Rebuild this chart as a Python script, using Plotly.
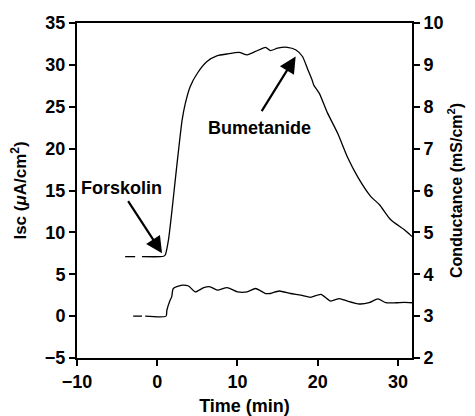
import plotly.graph_objects as go

# Isc trace (left axis, uA/cm2); None marks the gaps in the dashed baseline
isc_time = [-4.0, -2.75, None, -1.9, 0.4, 0.8, 1.0, 1.4, 1.8, 2.25, 2.7, 3.1, 3.5, 4.1, 5.0, 6.2, 7.5,
            8.7, 10.2, 11.2, 12.25, 13.5, 14.1, 15.0, 16.2, 17.25, 18.1, 18.7, 19.3, 19.5,
            20.2, 21.2, 22.5, 23.7, 25.0, 26.6, 27.7, 29.1, 30.8, 31.75]
isc_vals = [7.1, 7.1, None, 7.1, 7.1, 7.15, 7.3, 9.1, 12.3, 16.3, 20.2, 23.4, 25.4, 27.4, 29.0, 30.4, 31.1,
            31.3, 31.5, 31.2, 31.6, 32.1, 31.7, 32.0, 32.1, 31.8, 31.0, 29.6, 28.2, 27.6,
            26.6, 24.3, 21.8, 19.0, 16.6, 14.3, 13.3, 11.5, 10.3, 9.5]

# Conductance trace (right axis, mS/cm2)
g_time = [-3.0, -1.9, None, -1.5, 1.1, 1.2, 1.6, 1.8, 2.0, 3.1, 3.9, 4.75, 5.8, 6.6, 7.5, 8.7, 10.0,
          11.2, 12.25, 13.5, 14.1, 15.2, 16.6, 17.9, 19.1, 20.4, 21.6, 22.7, 23.7, 25.2,
          26.4, 27.5, 28.5, 29.75, 30.8, 31.75]
g_vals = [3.0, 3.0, None, 3.0, 3.0, 3.14, 3.38, 3.46, 3.66, 3.74, 3.72, 3.58, 3.68, 3.70, 3.62, 3.68, 3.58,
          3.58, 3.66, 3.54, 3.54, 3.60, 3.54, 3.50, 3.45, 3.52, 3.36, 3.42, 3.36, 3.29,
          3.32, 3.41, 3.32, 3.32, 3.33, 3.32]

x_ticks = [-10, 0, 10, 20, 30]
y_ticks = [-5, 0, 5, 10, 15, 20, 25, 30, 35]
y2_ticks = [2, 3, 4, 5, 6, 7, 8, 9, 10]

FONT = "Liberation Sans, Arial, sans-serif"
TICKFONT = dict(family=FONT, size=18, color="black", weight="bold")
TITLEFONT = dict(family=FONT, size=17, color="black", weight="bold")

fig = go.Figure()
fig.add_trace(go.Scatter(x=isc_time, y=isc_vals, mode="lines", connectgaps=False,
                         line=dict(color="black", width=1.3, shape="spline", smoothing=0.6),
                         showlegend=False))
fig.add_trace(go.Scatter(x=g_time, y=g_vals, mode="lines", connectgaps=False, yaxis="y2",
                         line=dict(color="black", width=1.3, shape="spline", smoothing=0.6),
                         showlegend=False))

axis_common = dict(showgrid=False, zeroline=False, showline=True, linecolor="black", linewidth=2,
                   ticks="outside", ticklen=6, tickwidth=2, tickcolor="black",
                   tickfont=TICKFONT, automargin=False)

# page body has an 8px margin, so the figure is sized to fit the window
fig.update_layout(
    width=467, height=408,
    margin=dict(l=69, r=63, t=15, b=58),
    plot_bgcolor="white", paper_bgcolor="white",
    font=dict(family=FONT, color="black"),
    xaxis=dict(range=[-10, 31.75], tickvals=x_ticks, mirror=True,
               title=dict(text="Time (min)", font=dict(family=FONT, size=18, color="black", weight="bold")),
               **axis_common),
    yaxis=dict(range=[-5, 35], tickvals=y_ticks,
               title=dict(text="Isc (<i>μ</i>A/cm<sup>2</sup>)", font=TITLEFONT),
               **axis_common),
    yaxis2=dict(range=[2, 10], tickvals=y2_ticks, overlaying="y", side="right",
                title=dict(text="Conductance (mS/cm<sup>2</sup>)",
                           font=dict(family=FONT, size=16, color="black", weight="bold"), standoff=8),
                **axis_common),
)

fig.add_annotation(x=0.6, y=7.5, ax=-3.75, ay=13.9, xref="x", yref="y", axref="x", ayref="y",
                   showarrow=True, arrowhead=2, arrowsize=1.5, arrowwidth=2.2, arrowcolor="black", text="")
fig.add_annotation(x=17.25, y=31.0, ax=12.9, ay=24.3, xref="x", yref="y", axref="x", ayref="y",
                   showarrow=True, arrowhead=2, arrowsize=1.5, arrowwidth=2.2, arrowcolor="black", text="")
fig.add_annotation(x=-4.4, y=15.3, xref="x", yref="y", text="Forskolin", showarrow=False,
                   font=dict(family=FONT, size=18, color="black", weight="bold"))
fig.add_annotation(x=12.75, y=22.5, xref="x", yref="y", text="Bumetanide", showarrow=False,
                   font=dict(family=FONT, size=18, color="black", weight="bold"))

fig.write_html("out.html")
